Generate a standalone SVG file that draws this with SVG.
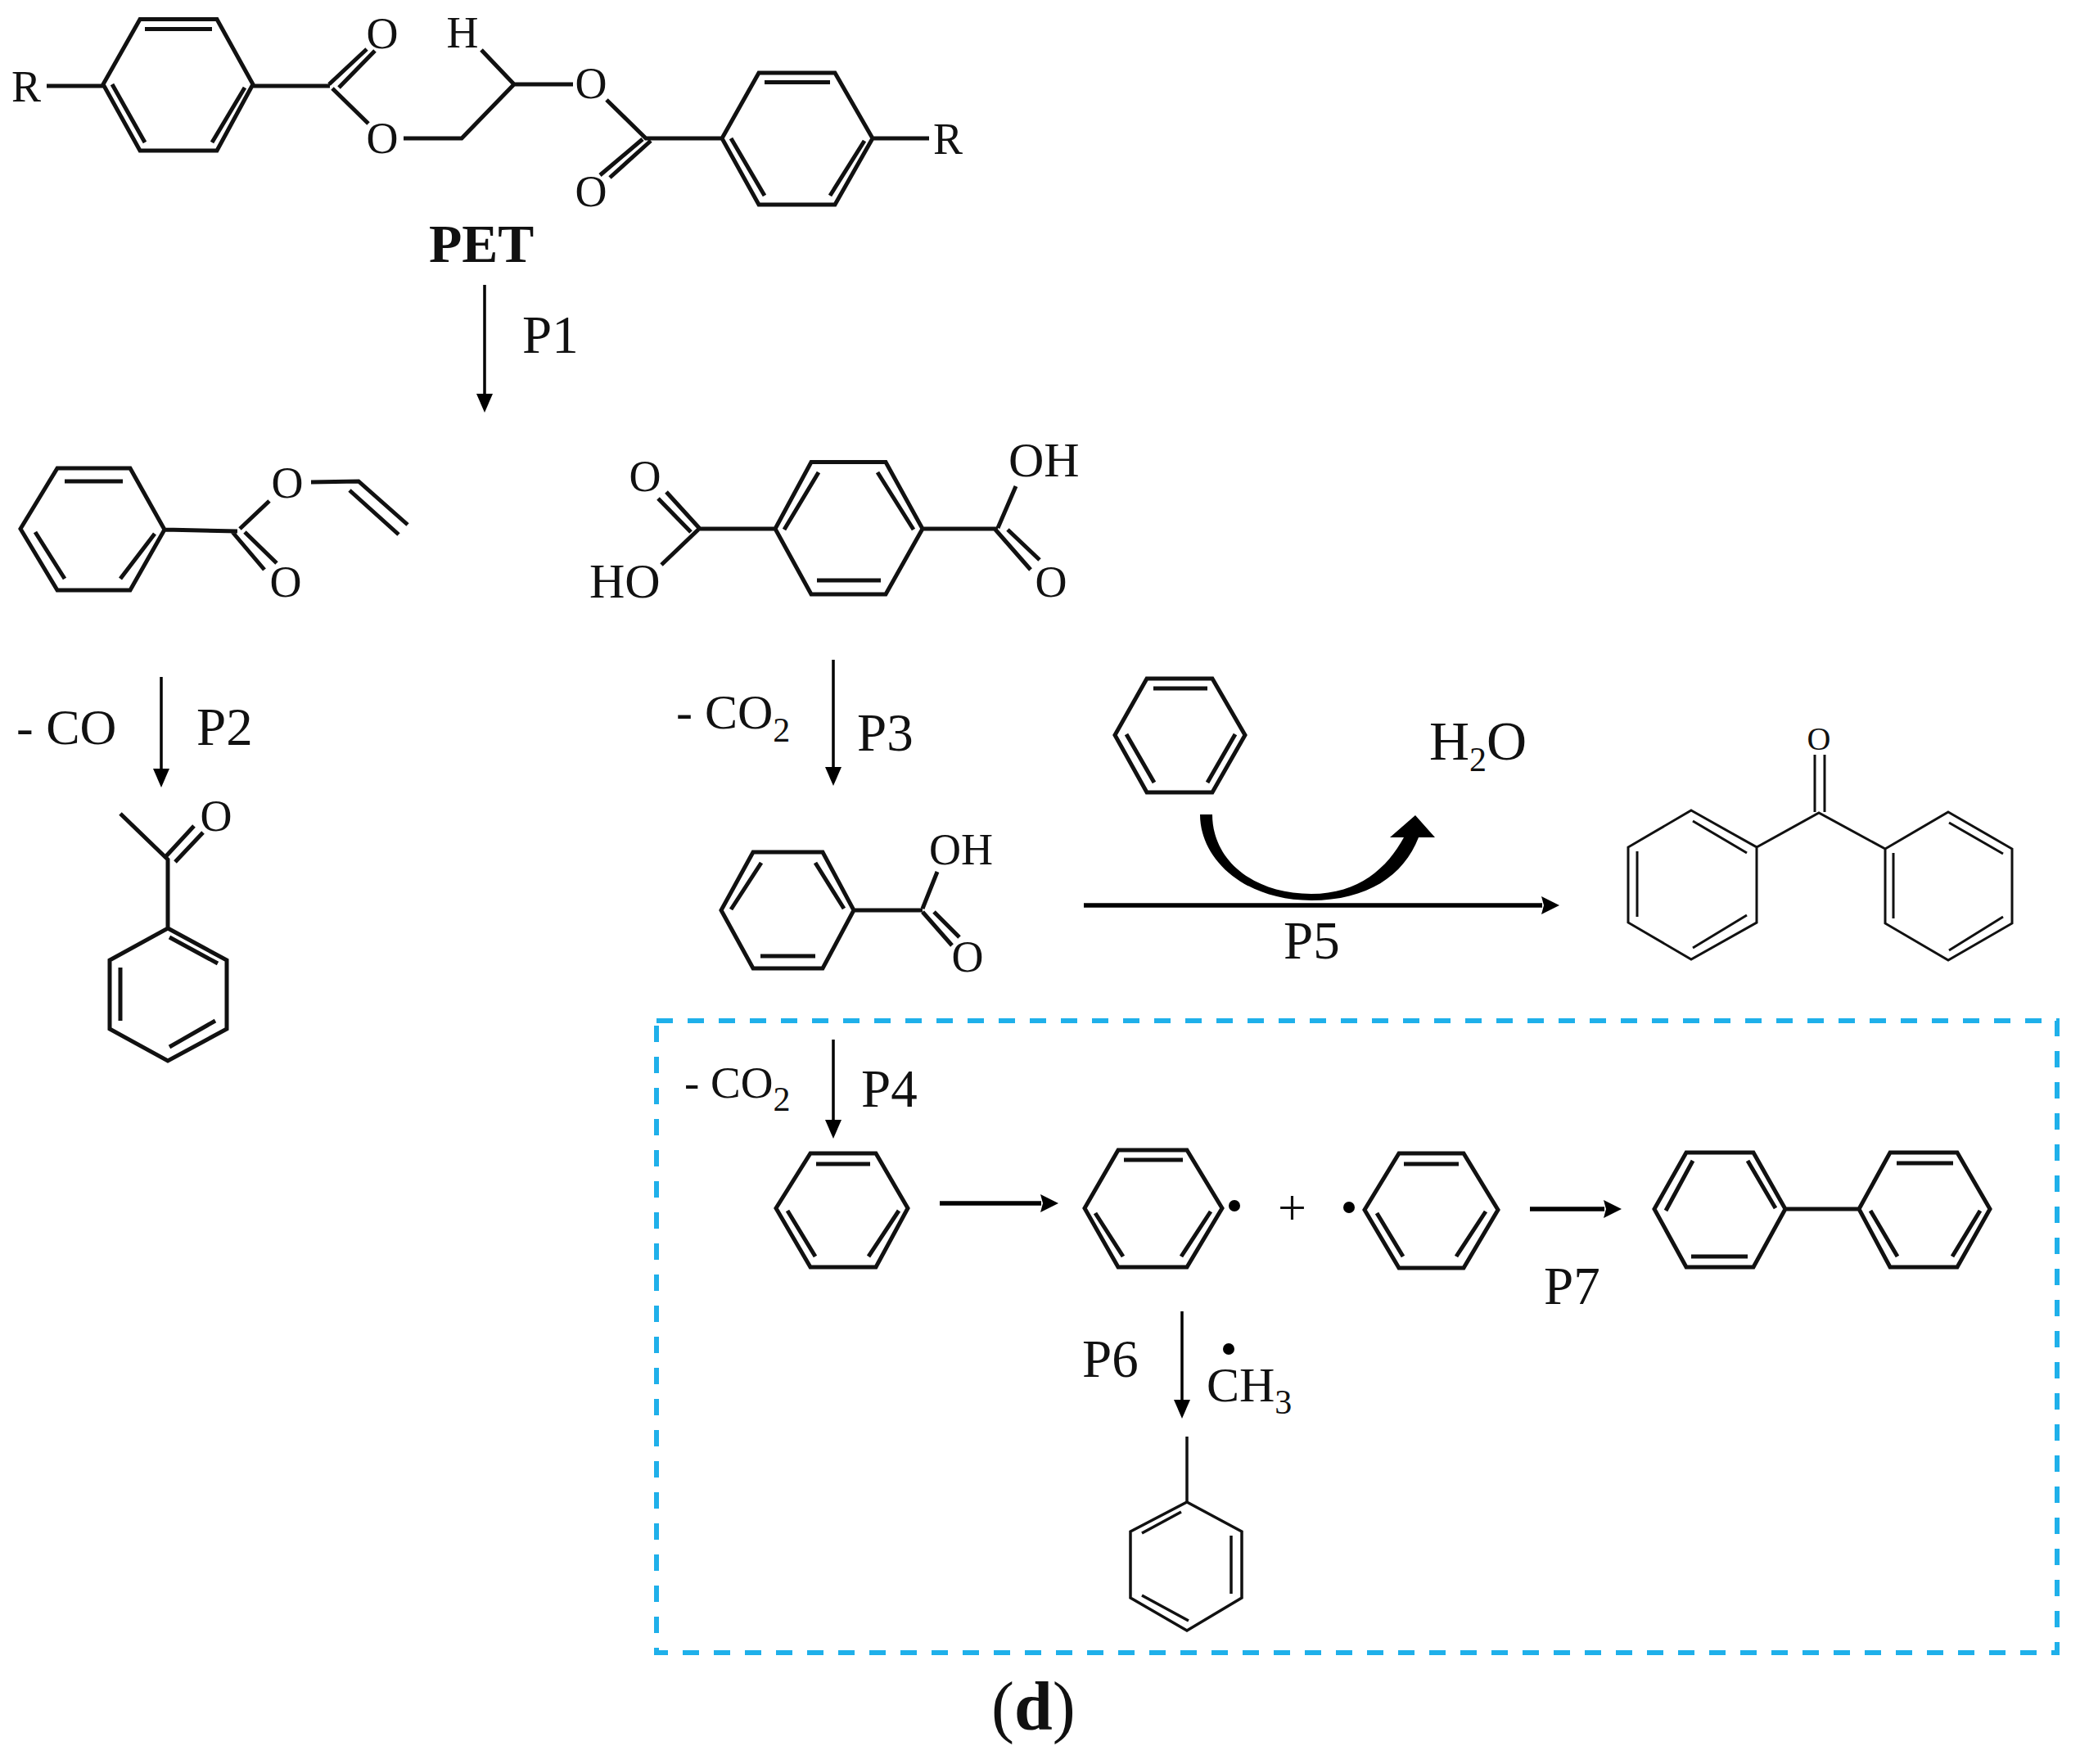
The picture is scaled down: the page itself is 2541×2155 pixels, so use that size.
<svg xmlns="http://www.w3.org/2000/svg" width="2541" height="2155" viewBox="0 0 2541 2155">
<style>
text{font-family:"Liberation Serif","Times New Roman",serif;fill:#111}
.a{font-size:54px;text-anchor:middle}
.l{font-size:65px}
.f{font-size:60px}
.s{font-size:42px}
.b{fill:none;stroke:#111;stroke-width:5;stroke-linejoin:miter}
.t{fill:none;stroke:#111;stroke-width:3}
.c{fill:none;stroke:#000;stroke-width:3.5}
.w{fill:none;stroke:#000;stroke-width:5.5}
</style>
<defs>
<marker id="ah" markerUnits="userSpaceOnUse" markerWidth="24" markerHeight="22" refX="1" refY="11" orient="auto"><path d="M0 1L23 11L0 21Z" fill="#000"/></marker>
<marker id="ah2" markerUnits="userSpaceOnUse" markerWidth="24" markerHeight="24" refX="1" refY="12" orient="auto"><path d="M0 1L22 12L0 23L3 12Z" fill="#000"/></marker>
</defs>
<rect width="2541" height="2155" fill="#fff"/>
<g id="pet">
<path class="b" d="M126 103L171 23.5H265L309 103L265 184H171ZM177 35.5H259M137 103L177 174M299 107L259 174M57 105H126M309 105H403M402 103L448 60M414 107L458 62M406 108L450 151M493 169H564L628 103L588 61M628 103H700M741 122L789 169H882M785 170L733 214M795 172L745 217M882 169L927 89H1020L1066 169L1020 250H927ZM934 100.5H1014M893 169L934 239M1056 172L1014 239M1066 169H1135"/>
<text class="a" x="32" y="124">R</text><text class="a" x="467" y="59">O</text><text class="a" x="467" y="187">O</text><text class="a" x="565" y="58">H</text><text class="a" x="722" y="120">O</text><text class="a" x="722" y="252">O</text><text class="a" x="1158" y="188">R</text>
<text x="524" y="320" font-size="66" font-weight="bold">PET</text>
</g>
<g id="vinyl-benzoate">
<path class="b" d="M70 572H159L201 647L159 721H70L25 646ZM79 588H150M43 650L79 707M189 652L147 707M201 647L290 649M293 646L329 612M380 589L438 588L498 641M427 599L487 653M284 650L323 696M299 650L338 688"/>
<text class="a" x="351" y="608">O</text><text class="a" x="349" y="729">O</text>
</g>
<g id="terephthalic-acid">
<path class="b" d="M947 646L991 564.5H1082L1127 646L1082 726H991ZM958 647L1000 577M1072 577L1116 647M998 709H1076M1127 646H1219M1219 645L1241 594M1216 647L1259 696M1231 647L1270 684M947 646H853M853 647L808 690M855 646L814 601M844 650L804 609"/>
<text x="1232" y="582" class="a" style="text-anchor:start;font-size:60px">OH</text><text x="720" y="730" class="a" style="text-anchor:start;font-size:60px">HO</text><text class="a" x="788" y="600">O</text><text class="a" x="1284" y="729">O</text>
</g>
<g id="acetophenone">
<path class="b" d="M147 994L205 1050L205 1134M201 1048L237 1009M214 1053L248 1017M205 1134L277 1173V1257L205 1296L134 1257V1173ZM207 1145L266 1177M147 1182V1247M263 1247L207 1279"/>
<text class="a" x="264" y="1015">O</text>
</g>
<g id="benzoic-acid">
<path class="b" d="M920 1041H1005L1043 1112L1005 1183H920L881 1112ZM893 1111L930 1054M996 1054L1031 1110M929 1168H996M1043 1112H1127M1127 1110L1145 1065M1127 1114L1163 1155M1141 1114L1172 1145"/>
<text x="1135" y="1056" class="a" style="text-anchor:start;font-size:54px">OH</text><text class="a" x="1182" y="1187">O</text>
</g>
<g id="benzene-reagent">
<path class="b" d="M1401 829H1481L1521 898L1481 968H1401L1362 898ZM1409 841H1475M1376 897L1410 956M1509 897L1475 956"/>
</g>
<g id="benzophenone">
<path class="t" d="M2217 922V992M2229 922V992M2146 1035L2222 993L2303 1037M2066 990L2146 1035V1127L2066 1172L1989 1127V1035ZM2068 1003L2134 1042M2000 1040V1120M2134 1118L2068 1158M2380 992L2458 1037V1128L2380 1173L2303 1128V1037ZM2381 1005L2447 1043M2313 1042V1122M2447 1120L2381 1161"/>
<text class="a" style="font-size:40px" x="2222" y="916">O</text>
</g>
<g id="benzene">
<path class="b" d="M990 1409H1070L1109 1476L1070 1548H990L948 1476ZM997 1422H1063M962 1479L996 1535M1098 1479L1061 1535"/>
</g>
<g id="phenyl-radical-1">
<path class="b" d="M1366 1405H1450L1493 1476L1450 1548H1366L1325 1476ZM1373 1417H1445M1338 1482L1372 1535M1479 1480L1443 1535"/>
<circle cx="1508" cy="1473" r="7" fill="#000"/>
</g>
<text x="1561" y="1496" style="font-size:62px">+</text>
<g id="phenyl-radical-2">
<circle cx="1648" cy="1475" r="7" fill="#000"/>
<path class="b" d="M1709 1409H1788L1830 1478L1788 1549H1709L1667 1478ZM1715 1422H1782M1682 1482L1714 1535M1815 1480L1779 1535"/>
</g>
<g id="biphenyl">
<path class="b" d="M2060 1408H2142L2181 1477L2142 1548H2060L2021 1477ZM2035 1479L2068 1418M2135 1418L2169 1476M2066 1535H2135M2181 1477H2271M2309 1408H2391L2431 1477L2391 1548H2309L2271 1477ZM2317 1421H2386M2285 1479L2318 1535M2419 1479L2385 1535"/>
</g>
<g id="toluene">
<path class="t" style="stroke-width:3.5" d="M1450 1755V1835M1450 1835L1517 1871V1952L1450 1992L1381 1952V1871ZM1443 1847L1395 1873M1504 1876V1947M1395 1949L1452 1980"/>
</g>
<g id="labels">
<text class="l" x="638" y="431">P1</text>
<text class="f" x="20" y="909" style="font-size:62px">- CO</text>
<text class="l" x="240" y="910">P2</text>
<text class="f" x="826" y="890">- CO<tspan class="s" dy="16">2</tspan></text>
<text class="l" x="1047" y="917">P3</text>
<text class="f" x="836" y="1341" style="font-size:55px">- CO<tspan class="s" dy="16">2</tspan></text>
<text class="l" x="1052" y="1352">P4</text>
<text class="l" x="1568" y="1171">P5</text>
<text class="l" x="1322" y="1682">P6</text>
<text class="l" x="1886" y="1593">P7</text>
<text x="1746" y="928" font-size="68">H<tspan class="s" dy="14">2</tspan><tspan dy="-14">O</tspan></text>
<text class="f" x="1474" y="1712" style="font-size:60px">CH<tspan class="s" dy="15">3</tspan></text>
<circle cx="1501" cy="1648" r="7" fill="#000"/>
<text x="1211" y="2113" font-size="84">(<tspan font-weight="bold">d</tspan>)</text>
</g>
<g id="connectors">
<line class="c" x1="592" y1="348" x2="592" y2="482" marker-end="url(#ah)"/>
<line class="c" x1="197" y1="827" x2="197" y2="940" marker-end="url(#ah)"/>
<line class="c" x1="1018" y1="806" x2="1018" y2="938" marker-end="url(#ah)"/>
<line class="c" x1="1018" y1="1270" x2="1018" y2="1369" marker-end="url(#ah)"/>
<line class="c" x1="1444" y1="1602" x2="1444" y2="1711" marker-end="url(#ah)"/>
<line class="w" x1="1324" y1="1106" x2="1884" y2="1106" marker-end="url(#ah2)"/>
<line class="w" x1="1148" y1="1470" x2="1272" y2="1470" marker-end="url(#ah2)"/>
<line class="w" x1="1869" y1="1477" x2="1960" y2="1477" marker-end="url(#ah2)"/>
<path d="M1466 995C1466 1050 1520 1100 1602 1100C1670 1100 1715 1070 1733 1023H1753L1729 996L1698 1023H1715C1695 1060 1660 1092 1602 1092C1530 1092 1481 1050 1481 995Z" fill="#000"/>
</g>
<rect id="highlight-box" x="802" y="1247" width="1711" height="772" fill="none" stroke="#1fb0ea" stroke-width="6" stroke-dasharray="20 18"/>
</svg>
